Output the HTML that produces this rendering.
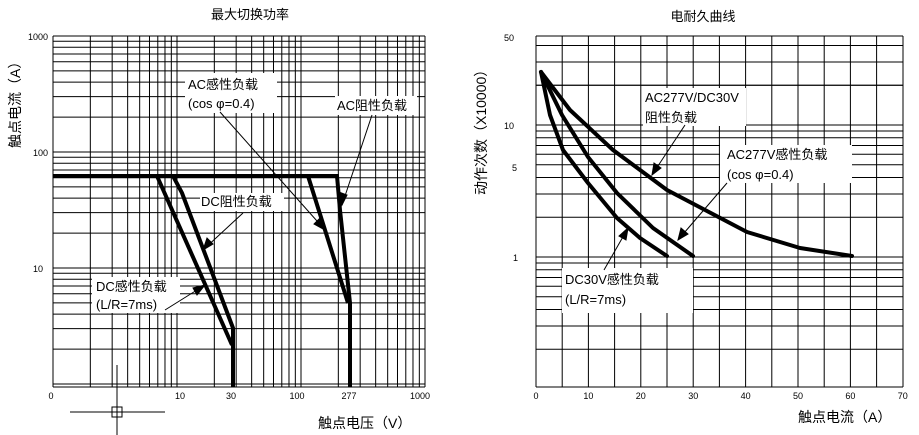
<!DOCTYPE html>
<html><head><meta charset="utf-8"><style>
body{margin:0;background:#fff}
svg{display:block;font-family:"Liberation Sans","Noto Sans CJK SC",sans-serif}
</style></head><body>
<svg id="s" width="919" height="435" viewBox="0 0 919 435" xmlns="http://www.w3.org/2000/svg">
<rect width="919" height="435" fill="#fff"/>
<g id="grid" stroke="#000" stroke-width="1" fill="none"></g>
<!-- left chart thick curves -->
<g stroke="#000" stroke-width="4" fill="none" stroke-linejoin="miter">
<polyline points="53,176 337,176 340,210 350,303 350,387"/>
<polyline points="308,176 325,230 348,303"/>
<polyline points="173,176 182,193 233,328 233,387"/>
<polyline points="157,176 232,345"/>
</g>
<!-- left labels -->
<g font-size="13" fill="#000">
<rect x="185" y="73" width="92" height="40" fill="#fff"/>
<text x="188" y="89">AC感性负载</text>
<text x="188" y="108">(cos φ=0.4)</text>
<rect x="335" y="96" width="82" height="19" fill="#fff"/>
<text x="337" y="110">AC阻性负载</text>
<rect x="200" y="193" width="84" height="18" fill="#fff"/>
<text x="201" y="206">DC阻性负载</text>
<rect x="92" y="277" width="88" height="36" fill="#fff"/>
<text x="96" y="291">DC感性负载</text>
<text x="96" y="309">(L/R=7ms)</text>
</g>
<g stroke="#000" stroke-width="1" fill="#000">
<line x1="220" y1="112" x2="325" y2="230"/><polygon points="325,230 314,224 320,218"/>
<line x1="372" y1="115" x2="342" y2="205"/><polygon points="342,205 339,192 347,195"/>
<line x1="243" y1="213" x2="203" y2="250"/><polygon points="203,250 207,238 213,244"/>
<line x1="165" y1="310" x2="205" y2="285"/><polygon points="205,285 197,295 193,288"/>
</g>
<!-- crosshair -->
<g stroke="#000" stroke-width="1" fill="none">
<line x1="117" y1="365" x2="117" y2="435"/>
<line x1="70" y1="412" x2="165" y2="412"/>
<rect x="112" y="407" width="10" height="10"/>
</g>
<!-- right chart curves -->
<g stroke="#000" stroke-width="4" fill="none" stroke-linejoin="round" stroke-linecap="round">
<polyline points="541,72 570,110 613,150 667,190 747,232 800,248 852,256"/>
<polyline points="541,72 562,115 588,157 617,193 653,228 693,256"/>
<polyline points="541,72 550,115 563,150 588,183 617,218 640,238 667,256"/>
</g>
<g font-size="13" fill="#000">
<rect x="643" y="88" width="103" height="38" fill="#fff"/>
<text x="645" y="102">AC277V/DC30V</text>
<text x="645" y="122">阻性负载</text>
<rect x="720" y="145" width="132" height="38" fill="#fff"/>
<text x="727" y="159">AC277V感性负载</text>
<text x="727" y="179">(cos φ=0.4)</text>
<rect x="562" y="268" width="131" height="45" fill="#fff"/>
<text x="565" y="284">DC30V感性负载</text>
<text x="565" y="304">(L/R=7ms)</text>
</g>
<g stroke="#000" stroke-width="1" fill="#000">
<line x1="685" y1="125" x2="652" y2="175"/><polygon points="652,175 654,163 661,168"/>
<line x1="727" y1="183" x2="678" y2="240"/><polygon points="678,240 681,228 688,234"/>
<line x1="604" y1="270" x2="628" y2="228"/><polygon points="628,228 626,240 619,236"/>
</g>
<!-- titles and axis labels -->
<g font-size="13" fill="#000">
<text x="250" y="19" text-anchor="middle">最大切换功率</text>
<text x="703" y="21" text-anchor="middle">电耐久曲线</text>
<text x="318" y="428" font-size="14">触点电压（V）</text>
<text x="798" y="422" font-size="14">触点电流（A）</text>
<text transform="translate(20,148) rotate(-90)" font-size="14">触点电流（A）</text>
<text transform="translate(486,195) rotate(-90)" font-size="14">动作次数（X10000）</text>
</g>
<g font-size="9" fill="#000" id="ticks">
<text x="48" y="40" text-anchor="end">1000</text>
<text x="48" y="156" text-anchor="end">100</text>
<text x="43" y="272" text-anchor="end">10</text>
<text x="51" y="399" text-anchor="middle">0</text>
<text x="180" y="399" text-anchor="middle">10</text>
<text x="231" y="399" text-anchor="middle">30</text>
<text x="297" y="399" text-anchor="middle">100</text>
<text x="349" y="399" text-anchor="middle">277</text>
<text x="420" y="399" text-anchor="middle">1000</text>
<text x="514" y="41" text-anchor="end">50</text>
<text x="514" y="129" text-anchor="end">10</text>
<text x="517" y="171" text-anchor="end">5</text>
<text x="518" y="261" text-anchor="end">1</text>
</g>
</svg>
<script>
var g=document.getElementById('grid'),ns='http://www.w3.org/2000/svg',t=document.getElementById('ticks');
function L(a,b,c,d,w){var l=document.createElementNS(ns,'line');l.setAttribute('x1',a);l.setAttribute('y1',b);l.setAttribute('x2',c);l.setAttribute('y2',d);if(w)l.setAttribute('stroke-width',w);g.appendChild(l);}
// left chart
L(53,36,425,36);L(53,387,425,387);L(53,36,53,387);L(425,36,425,387);
for(var k=0;k<3;k++)for(var d=1;d<10;d++){var v=d*Math.pow(10,k);var lg=Math.log10(v);
 var y=384-116*lg;if(y>36&&y<387)L(53,y,425,y);
 var x=53+124*lg;if(x>53&&x<425)L(x,36,x,387);}
// right chart
L(536,36,903,36);L(536,387,903,387);L(536,36,536,387);L(903,36,903,387);
for(var i=1;i<14;i++){var x=536+26.2*i;L(x,36,x,387);}
for(var k=-1;k<2;k++)for(var d=1;d<10;d++){var v=d*Math.pow(10,k);var y=257-132*Math.log10(v);if(y>36&&y<387)L(536,y,903,y);}
[20,30,40].forEach(function(v){var y=257-132*Math.log10(v);L(536,y,903,y);});
for(var i=0;i<=7;i++){var tx=document.createElementNS(ns,'text');tx.setAttribute('x',536+52.4*i);tx.setAttribute('y',399);tx.setAttribute('text-anchor','middle');tx.textContent=String(i*10);t.appendChild(tx);}
</script>
</body></html>
